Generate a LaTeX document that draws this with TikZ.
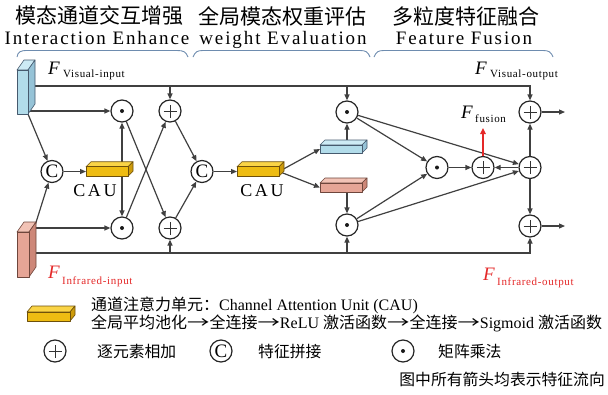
\documentclass[tikz,border=0pt]{standalone}
\usepackage{fontspec}
\setmainfont{Liberation Serif}
\newfontfamily\cjk{Noto Sans CJK SC}
\newfontfamily\lsp[LetterSpace=10]{Liberation Serif}
\newfontfamily\lspsub[LetterSpace=6]{Liberation Serif}
\newfontfamily\lspcau[LetterSpace=15]{Liberation Serif}
\usetikzlibrary{arrows.meta,calc}

\newcommand{\larr}{\scalebox{1.4}[1]{\cjk →}}

\definecolor{lineg}{RGB}{64,64,64}
\definecolor{braceblue}{RGB}{110,140,175}
\definecolor{caufront}{RGB}{238,188,18}
\definecolor{cautop}{RGB}{250,212,70}
\definecolor{causide}{RGB}{205,155,10}
\definecolor{cauedge}{RGB}{110,80,10}
\definecolor{visfront}{RGB}{178,220,234}
\definecolor{vistop}{RGB}{205,235,245}
\definecolor{visside}{RGB}{150,195,215}
\definecolor{visedge}{RGB}{70,90,110}
\definecolor{irfront}{RGB}{230,165,150}
\definecolor{irtop}{RGB}{242,195,182}
\definecolor{irside}{RGB}{205,135,120}
\definecolor{iredge}{RGB}{110,70,60}
\definecolor{redlab}{RGB}{228,40,40}

\newcommand{\cuboid}[4]{%
  \filldraw[fill=#4top, draw=#4edge, line width=0.6pt, line join=round]
    (#1.north west) -- ++(#2,-#3) -- ($(#1.north east)+(#2,-#3)$) -- (#1.north east) -- cycle;
  \filldraw[fill=#4side, draw=#4edge, line width=0.6pt, line join=round]
    (#1.north east) -- ++(#2,-#3) -- ($(#1.south east)+(#2,-#3)$) -- (#1.south east) -- cycle;
  \filldraw[fill=#4front, draw=#4edge, line width=0.6pt, line join=round]
    (#1.south west) rectangle (#1.north east);
}

\tikzset{
  conn/.style={draw=lineg, line width=1.2pt, -{Triangle[length=6pt,width=5pt]}},
  redconn/.style={draw=redlab, line width=1.6pt, -{Triangle[length=6pt,width=5.5pt]}},
  opnode/.style={circle, draw=black!85, line width=1.2pt, minimum size=22pt, inner sep=0pt, fill=white},
  oplus/.style={opnode, path picture={
      \draw[line width=0.8pt, black!80] ([xshift=-6.5pt]path picture bounding box.center) -- ([xshift=6.5pt]path picture bounding box.center);
      \draw[line width=0.8pt, black!80] ([yshift=-6.5pt]path picture bounding box.center) -- ([yshift=6.5pt]path picture bounding box.center);}},
  odot/.style={opnode, path picture={\fill[black!90] (path picture bounding box.center) circle (2pt);}},
  oconcat/.style={opnode, font=\fontsize{19}{19}\selectfont},
  box/.style={rectangle, inner sep=0pt, outer sep=0pt},
  bracestyle/.style={draw=braceblue, line width=0.9pt},
  ftxt/.style={anchor=base west, inner sep=0pt, font=\fontsize{19}{19}\selectfont\itshape},
  subtxt/.style={anchor=base west, inner sep=0pt, font=\lspsub\fontsize{11}{11}\selectfont},
  cjktitle/.style={inner sep=0pt, font=\cjk\fontsize{21}{21}\selectfont},
  entitle/.style={anchor=base, inner sep=0pt, font=\lsp\fontsize{19}{19}\selectfont},
  cautxt/.style={inner sep=0pt, font=\lspcau\fontsize{18}{18}\selectfont},
  legtxt/.style={anchor=base west, inner sep=0pt, font=\fontsize{16}{16}\selectfont},
  legcjk/.style={anchor=base west, inner sep=0pt, font=\cjk\fontsize{15.8}{15.8}\selectfont},
}

\begin{document}
\begin{tikzpicture}[x=1pt,y=-1pt]
\useasboundingbox (0,0) rectangle (608,394);

% ---------- titles ----------
\node[cjktitle] (t1c) at (100,16) {模态通道交互增强};
\node[entitle] (t1e) at (97,44) {Interaction Enhance};
\node[cjktitle] (t2c) at (282,16) {全局模态权重评估};
\node[entitle] (t2e) at (283,44) {weight Evaluation};
\node[cjktitle] (t3c) at (466,16) {多粒度特征融合};
\node[entitle] (t3e) at (464,44) {Feature Fusion};

\draw[bracestyle] (17,57) .. controls (18,52) and (20,50.5) .. (27,50.5) -- (177,50.5) .. controls (184,50.5) and (186,52) .. (188,57);
\draw[bracestyle] (193,57) .. controls (195,52) and (197,50.5) .. (203,50.5) -- (360,50.5) .. controls (366,50.5) and (368,52) .. (370,57);
\draw[bracestyle] (374,57) .. controls (376,52) and (378,50.5) .. (384,50.5) -- (543,50.5) .. controls (549,50.5) and (551,52) .. (553,57);

% ---------- feature blocks (placeholders) ----------
\node[box, minimum width=11pt, minimum height=44pt] (vis) at (22.5,92) {};
\node[box, minimum width=12pt, minimum height=45pt] (ir) at (23,254.5) {};
\node[box, minimum width=42pt, minimum height=9.5pt] (cau1) at (107,171.5) {};
\node[box, minimum width=42pt, minimum height=9.5pt] (cau2) at (258,171.5) {};
\node[box, minimum width=42pt, minimum height=8pt] (blue) at (341,149) {};
\node[box, minimum width=42pt, minimum height=9pt] (pink) at (341,187.5) {};

% ---------- operator nodes ----------
\node[odot] (d1t) at (122,111) {};
\node[oplus] (a1t) at (170,111) {};
\node[oconcat] (c1) at (52,171.5) {C};
\node[odot] (d1b) at (122,228) {};
\node[oplus] (a1b) at (170,228) {};
\node[oconcat] (c2) at (202,171.5) {C};
\node[odot] (d2t) at (347,112) {};
\node[odot] (d2b) at (347,225) {};
\node[odot] (d3) at (437,167.5) {};
\node[oplus] (af) at (483,167.5) {};
\node[oplus] (aRm) at (530,167.5) {};
\node[oplus] (aRt) at (530,112) {};
\node[oplus] (aRb) at (530,226) {};

\coordinate (tr) at (530,86);
\coordinate (brc) at (530,253);
\coordinate (outT) at (565,112);
\coordinate (outB) at (565,226);
\coordinate (ffu) at (483,128);

% ---------- connectors ----------
\draw[conn] (vis.east |- tr) -- (tr) -- (aRt);
\draw[conn] (a1t |- tr) -- (a1t);
\draw[conn] (d2t |- tr) -- (d2t);
\draw[conn] (ir.east |- brc) -- (brc) -- (aRb);
\draw[conn] (a1b |- brc) -- (a1b);
\draw[conn] (d2b |- brc) -- (d2b);

\draw[conn] (vis.east |- d1t) -- (d1t);
\draw[conn] (vis.south east) -- (c1);
\draw[conn] ([xshift=4pt]ir.north east) -- (c1);
\draw[conn] (ir.east |- d1b) -- (d1b);
\draw[conn] (c1) -- (cau1.west);
\draw[conn] (cau1.north -| d1t) -- (d1t);
\draw[conn] (cau1.south -| d1b) -- (d1b);
\draw[conn] (d1t) -- (a1b);
\draw[conn] (d1b) -- (a1t);
\draw[conn] (a1t) -- (c2);
\draw[conn] (a1b) -- (c2);
\draw[conn] (c2) -- (cau2.west);

\draw[conn] (cau2.east) -- (blue.west);
\draw[conn] (cau2.east) -- (pink.west);
\draw[conn] (blue.north -| d2t) -- (d2t);
\draw[conn] (pink.south -| d2b) -- (d2b);

\draw[conn] (d2t) -- (d3);
\draw[conn] (d2t) -- (aRm);
\draw[conn] (d2b) -- (d3);
\draw[conn] (d2b) -- (aRm);
\draw[conn] (d3) -- (af);
\draw[conn] (aRm) -- (af);
\draw[conn] (aRm) -- (aRt);
\draw[conn] (aRm) -- (aRb);
\draw[conn] (aRt) -- (outT);
\draw[conn] (aRb) -- (outB);
\draw[redconn] (af) -- (ffu);

% ---------- cuboids ----------
\cuboid{vis}{7}{10}{vis}
\cuboid{ir}{7}{10}{ir}
\cuboid{cau1}{5}{5}{cau}
\cuboid{cau2}{5}{5}{cau}
\cuboid{blue}{5}{5}{vis}
\cuboid{pink}{5}{5}{ir}

% ---------- labels ----------
\node[cautxt] (cl1) at (95,191) {CAU};
\node[cautxt] (cl2) at (262,191) {CAU};

\node[ftxt] (fvi) at (48,74) {F};
\node[subtxt] (fvis) at (63,77) {Visual-input};
\node[ftxt] (fvo) at (475,74) {F};
\node[subtxt] (fvos) at (490,77) {Visual-output};
\node[ftxt] (ffl) at (461,118) {F};
\node[subtxt] (ffls) at (475,122) {fusion};
\node[ftxt, text=redlab] (fii) at (48,278) {F};
\node[subtxt, text=redlab] (fiis) at (62,284) {Infrared-input};
\node[ftxt, text=redlab] (fio) at (483,280) {F};
\node[subtxt, text=redlab] (fios) at (497,285) {Infrared-output};

% ---------- legend ----------
\node[box, minimum width=43pt, minimum height=9pt] (lcau) at (48.5,316.5) {};
\cuboid{lcau}{5}{6}{cau}
\node[legtxt] (lt1) at (91,310) {{\cjk 通道注意力单元：}Channel Attention Unit (CAU)};
\node[legtxt] (lt2) at (91,328) {{\cjk 全局平均池化}\larr{\cjk 全连接}\larr ReLU {\cjk 激活函数}\larr{\cjk 全连接}\larr Sigmoid {\cjk 激活函数}};

\node[oplus] (lplus) at (55,351) {};
\node[legcjk] (lplust) at (97,357) {逐元素相加};
\node[oconcat] (lcat) at (221,351) {C};
\node[legcjk] (lcatt) at (258,357) {特征拼接};
\node[odot] (ldot) at (403,351) {};
\node[legcjk] (ldott) at (438,357) {矩阵乘法};
\node[anchor=base east, inner sep=0pt, font=\cjk\fontsize{15.8}{15.8}\selectfont] (note) at (605,385) {图中所有箭头均表示特征流向};
\end{tikzpicture}
\end{document}
